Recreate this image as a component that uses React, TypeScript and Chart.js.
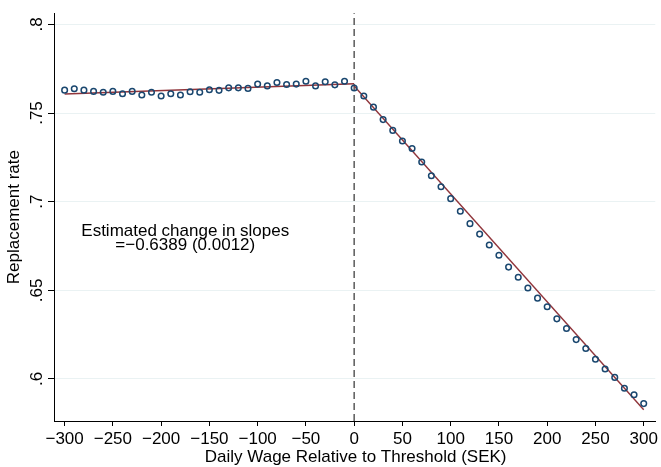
import React, { useEffect, useRef } from "react";
import { Chart, registerables } from "chart.js";

Chart.register(...registerables);

// ---- data ----
const leftX = [-300, -290, -280, -270, -260, -250, -240, -230, -220, -210, -200, -190, -180, -170, -160, -150, -140, -130, -120, -110, -100, -90, -80, -70, -60, -50, -40, -30, -20, -10];
const leftY = [0.7629, 0.7637, 0.7629, 0.7622, 0.7617, 0.7622, 0.7609, 0.7622, 0.7602, 0.7617, 0.7596, 0.7609, 0.7602, 0.762, 0.7617, 0.7631, 0.7628, 0.7642, 0.7642, 0.7639, 0.7663, 0.7653, 0.7672, 0.7661, 0.7663, 0.7679, 0.7653, 0.7676, 0.7659, 0.7679];
const rightX = [0, 10, 20, 30, 40, 50, 60, 70, 80, 90, 100, 110, 120, 130, 140, 150, 160, 170, 180, 190, 200, 210, 220, 230, 240, 250, 260, 270, 280, 290, 300];
const rightY = [0.7641, 0.7596, 0.7533, 0.7463, 0.7402, 0.7342, 0.73, 0.7224, 0.7146, 0.7084, 0.7017, 0.6946, 0.6876, 0.6817, 0.6756, 0.6698, 0.6631, 0.6574, 0.6513, 0.6456, 0.6407, 0.6339, 0.6285, 0.6222, 0.6172, 0.6111, 0.6056, 0.6009, 0.5948, 0.5911, 0.5861];
const leftFitX = [-300, 0];
const leftFitY = [0.7607, 0.7665];
const rightFitX = [0, 300];
const rightFitY = [0.7652, 0.5826];
const xTicks = [-300, -250, -200, -150, -100, -50, 0, 50, 100, 150, 200, 250, 300];
const yTicks = [0.6, 0.65, 0.7, 0.75, 0.8];
const yTickLabels = [".6", ".65", ".7", ".75", ".8"];
const threshold = 0;
const noteLines = ["Estimated change in slopes", "=\u22120.6389 (0.0012)"];
const noteX = -175;
const noteY = [0.68056, 0.67294];
const xTitle = "Daily Wage Relative to Threshold (SEK)";
const yTitle = "Replacement rate";

const FONT = "'Liberation Sans', Arial, Helvetica, sans-serif";
const NAVY = "#1a476f";
const MAROON = "#90353b";

export default function App() {
  const ref = useRef<HTMLCanvasElement>(null);

  useEffect(() => {
    document.body.style.margin = "0";
    const canvas = ref.current!;
    const toPts = (xs: number[], ys: number[]) => xs.map((x, i) => ({ x, y: ys[i] }));

    const extras = {
      id: "extras",
      beforeDatasetsDraw(chart: any) {
        const { ctx, chartArea, scales } = chart;
        const px = scales.x.getPixelForValue(threshold);
        ctx.save();
        ctx.strokeStyle = "#5a5a5a";
        ctx.lineWidth = 1.5;
        ctx.setLineDash([7, 4]);
        ctx.beginPath();
        ctx.moveTo(px, chartArea.bottom);
        ctx.lineTo(px, chartArea.top);
        ctx.stroke();
        ctx.restore();
      },
      afterDraw(chart: any) {
        const { ctx, chartArea, scales } = chart;
        ctx.save();
        ctx.fillStyle = "#000";
        ctx.font = `17px ${FONT}`;
        // y tick labels (rotated)
        yTicks.forEach((v, i) => {
          const py = scales.y.getPixelForValue(v);
          ctx.save();
          ctx.translate(37, py);
          ctx.rotate(-Math.PI / 2);
          ctx.textAlign = "center";
          ctx.textBaseline = "middle";
          ctx.fillText(yTickLabels[i], 0, 0);
          ctx.restore();
        });
        // y title
        ctx.save();
        ctx.translate(14, (chartArea.top + chartArea.bottom) / 2);
        ctx.rotate(-Math.PI / 2);
        ctx.textAlign = "center";
        ctx.textBaseline = "middle";
        ctx.fillText(yTitle, 0, 0);
        ctx.restore();
        // x title
        ctx.textAlign = "center";
        ctx.textBaseline = "middle";
        ctx.fillText(xTitle, (chartArea.left + chartArea.right) / 2 + 1, 457);
        // annotation
        ctx.textBaseline = "alphabetic";
        const nx = scales.x.getPixelForValue(noteX);
        noteLines.forEach((t, i) => {
          ctx.fillText(t, nx, scales.y.getPixelForValue(noteY[i]));
        });
        ctx.restore();
      },
    };

    const chart = new Chart(canvas, {
      type: "scatter",
      data: {
        datasets: [
          {
            data: toPts(leftFitX, leftFitY),
            showLine: true,
            borderColor: MAROON,
            borderWidth: 1.4,
            pointRadius: 0,
            order: 2,
          },
          {
            data: toPts(rightFitX, rightFitY),
            showLine: true,
            borderColor: MAROON,
            borderWidth: 1.4,
            pointRadius: 0,
            order: 2,
          },
          {
            data: toPts(leftX, leftY),
            showLine: false,
            pointRadius: 2.8,
            pointBorderWidth: 1.5,
            pointBorderColor: NAVY,
            pointBackgroundColor: "rgba(0,0,0,0)",
            order: 1,
          },
          {
            data: toPts(rightX, rightY),
            showLine: false,
            pointRadius: 2.8,
            pointBorderWidth: 1.5,
            pointBorderColor: NAVY,
            pointBackgroundColor: "rgba(0,0,0,0)",
            order: 1,
          },
        ],
      },
      options: {
        animation: false,
        responsive: false,
        events: [],
        layout: { padding: { top: 7, right: 1, left: 0, bottom: 0 } },
        plugins: { legend: { display: false }, tooltip: { enabled: false } },
        scales: {
          x: {
            type: "linear",
            min: -311,
            max: 312,
            afterBuildTicks: (s: any) => {
              s.ticks = xTicks.map((v) => ({ value: v }));
            },
            afterFit: (s: any) => {
              s.height = 46;
            },
            border: { display: true, color: "#000", width: 1 },
            grid: { drawOnChartArea: false, drawTicks: true, tickLength: 5, color: "#000", tickColor: "#000" },
            ticks: {
              autoSkip: false,
              maxRotation: 0,
              padding: 3,
              color: "#000",
              font: { family: FONT, size: 17 },
              callback: (v: any) => (v < 0 ? "\u2212" + Math.abs(v) : String(v)),
            },
          },
          y: {
            type: "linear",
            min: 0.5763,
            max: 0.8063,
            afterBuildTicks: (s: any) => {
              s.ticks = yTicks.map((v) => ({ value: v }));
            },
            afterFit: (s: any) => {
              s.width = 54;
            },
            border: { display: true, color: "#000", width: 1 },
            grid: { drawOnChartArea: true, drawTicks: true, tickLength: 6, color: "#eaf2f3", tickColor: "#000" },
            ticks: {
              color: "rgba(0,0,0,0)",
              font: { family: FONT, size: 17 },
              callback: (v: any) => String(v),
            },
          },
        },
      },
      plugins: [extras],
    });
    return () => chart.destroy();
  }, []);

  return (
    <div style={{ position: "fixed", left: 0, top: 0, width: 661, height: 467, background: "#fff" }}>
      <canvas ref={ref} width={661} height={467} style={{ width: 661, height: 467, display: "block" }} />
    </div>
  );
}
